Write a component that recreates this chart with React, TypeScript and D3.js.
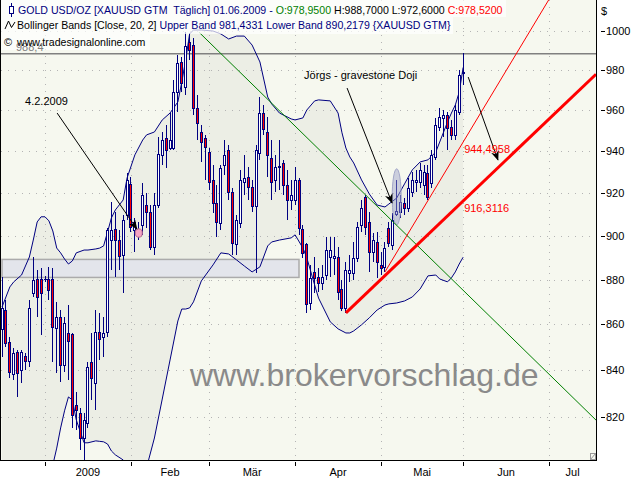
import React from 'react';
import * as d3 from 'd3';

// bar index 0 = Mon 15.12.2008, one bar per weekday
const startDate = new Date(2008, 11, 15);
const firstBar = 2;
const lastDay = 154; // right edge of the plot

const opens = [
  858.0, 866.4, 852.3, 838.4, 847.9, 840.1, 846.2, 844.0, 874.0, 880.3,
  880.3, 880.3, 880.3, 880.3, 858.4, 863.3, 842.3, 856.2, 855.8, 825.1,
  821.7, 811.2, 817.5, 843.6, 834.5, 856.7, 854.5, 856.7, 898.1, 903.2,
  898.1, 891.2, 909.8, 924.4, 902.8, 902.8, 905.1, 914.4, 911.2, 894.9,
  914.4, 938.3, 946.5, 941.6, 941.6, 969.1, 984.2, 971.6, 994.4, 992.8,
  961.2, 949.4, 946.5, 939.7, 926.3, 915.4, 906.0, 933.4, 940.7, 920.6,
  896.3, 906.0, 925.3, 927.7, 923.0, 914.0, 939.2, 958.7, 949.4, 936.8,
  926.3, 932.5, 934.4, 923.9, 916.8, 916.8, 926.3, 903.2, 896.3, 869.5,
  883.5, 881.2, 878.5, 882.1, 890.3, 889.9, 890.3, 875.8, 867.3, 883.0,
  883.0, 889.9, 905.1, 918.2, 906.5, 892.6, 897.2, 886.7, 885.8, 903.7,
  895.8, 910.2, 911.2, 915.4, 913.0, 920.6, 925.3, 925.3, 923.9, 929.6,
  924.9, 937.3, 951.9, 956.3, 957.7, 951.9, 948.0, 959.2, 978.95,
];
const highs = [
  881.2, 870.9, 854.5, 849.6, 848.8, 848.8, 847.5, 870.9, 890.3, 884.4,
  885.3, 881.7, 885.8, 885.3, 870.0, 866.4, 863.3, 868.6, 856.2, 830.6,
  823.8, 821.7, 843.6, 856.2, 866.4, 865.1, 863.3, 903.7, 915.9, 911.2,
  902.8, 909.8, 929.6, 927.7, 908.4, 906.5, 924.9, 920.1, 914.4, 920.1,
  947.0, 949.4, 952.8, 958.7, 975.1, 987.7, 986.7, 999.5, 999.0, 996.4,
  967.6, 952.8, 948.0, 941.6, 933.4, 923.9, 933.4, 945.5, 943.1, 922.5,
  909.8, 931.1, 938.3, 932.5, 926.3, 943.1, 966.6, 962.7, 956.8, 945.5,
  938.3, 945.5, 935.9, 931.1, 926.3, 932.5, 927.2, 905.1, 896.8, 886.7,
  890.3, 885.3, 886.7, 899.5, 899.5, 899.5, 894.9, 879.9, 888.0, 891.2,
  897.2, 906.5, 916.8, 919.2, 911.2, 901.4, 901.8, 892.6, 897.2, 906.5,
  910.7, 926.3, 919.2, 917.7, 927.2, 930.1, 931.1, 934.4, 933.4, 933.4,
  940.7, 956.3, 961.2, 960.2, 959.2, 955.3, 962.7, 980.2, 988.7,
];
const lows = [
  845.7, 850.1, 836.6, 835.8, 828.5, 834.5, 840.1, 841.4, 872.2, 863.3,
  855.3, 879.0, 870.9, 843.6, 838.8, 834.9, 839.2, 835.8, 815.4, 814.6,
  806.2, 802.1, 815.4, 827.2, 823.0, 844.4, 845.7, 854.5, 884.4, 881.2,
  884.4, 874.0, 907.4, 901.8, 892.6, 898.1, 900.5, 903.7, 893.5, 891.2,
  913.0, 933.4, 932.0, 940.7, 940.7, 959.2, 969.1, 967.6, 985.2, 957.7,
  945.5, 934.9, 926.3, 921.5, 910.7, 899.5, 902.8, 928.7, 916.8, 891.2,
  891.2, 903.7, 919.2, 916.8, 911.2, 883.0, 935.9, 948.0, 927.7, 916.8,
  920.6, 921.5, 919.2, 907.4, 912.1, 914.4, 900.5, 889.9, 865.1, 866.4,
  874.0, 874.5, 875.4, 879.9, 881.2, 882.1, 870.9, 866.0, 865.1, 879.0,
  879.9, 888.0, 901.8, 900.5, 883.5, 888.0, 880.8, 882.1, 883.5, 894.9,
  893.5, 909.3, 908.4, 909.8, 911.2, 918.2, 920.6, 922.5, 919.2, 916.8,
  922.5, 935.9, 949.9, 947.0, 940.7, 945.5, 945.5, 957.7, 972.6,
];
const closes = [
  867.3, 851.8, 839.2, 847.5, 838.8, 847.9, 844.0, 867.3, 879.9, 872.2,
  874.0, 880.1, 875.4, 858.9, 863.3, 842.3, 860.6, 852.7, 820.9, 823.0,
  811.2, 818.8, 841.4, 836.6, 856.7, 853.6, 856.2, 902.8, 902.8, 898.1,
  890.8, 907.4, 926.3, 904.2, 906.5, 900.0, 919.2, 911.2, 894.9, 914.4,
  938.7, 945.5, 940.7, 945.5, 969.1, 983.7, 973.6, 992.3, 990.3, 961.2,
  953.8, 944.5, 942.1, 925.3, 915.4, 906.5, 932.0, 938.3, 920.6, 896.8,
  907.4, 926.3, 927.2, 923.0, 914.0, 940.7, 958.7, 950.9, 938.3, 925.3,
  932.5, 933.0, 923.9, 916.8, 919.2, 926.3, 903.7, 892.2, 869.1, 880.8,
  880.8, 878.5, 881.2, 893.5, 893.5, 890.8, 874.5, 867.3, 884.4, 884.4,
  889.9, 904.2, 913.0, 904.2, 892.6, 898.1, 888.0, 885.3, 894.4, 896.8,
  907.4, 911.6, 915.9, 913.0, 922.5, 926.3, 926.3, 931.1, 930.1, 918.2,
  938.3, 952.8, 956.8, 957.7, 951.4, 948.0, 960.2, 977.6, 978.52,
];

// Bollinger Bands (20, 2), read at these bars
const bandDays = [
  2, 4, 5, 7, 8, 9, 10, 11, 12, 13, 14, 15, 16, 17, 18, 19, 20, 21, 23, 24,
  26, 27, 28, 29, 30, 31, 33, 34, 36, 38, 39, 41, 43, 45, 47, 48, 49, 50, 51, 53,
  56, 58, 60, 62, 64, 66, 68, 70, 71, 73, 76, 77, 79, 80, 82, 83, 86, 88, 89, 90,
  91, 92, 94, 96, 98, 100, 101, 103, 105, 107, 109, 111, 113, 114, 116, 117, 118, 119, 120,
];
const upperBand = [
  867.7, 876.7, 879.0, 882.1, 886.2, 890.3, 898.1, 906.5, 908.9, 908.9,
  907.0, 902.3, 894.4, 892.2, 889.4, 887.1, 888.5, 892.2, 893.5, 893.5,
  894.0, 894.4, 895.4, 901.8, 908.4, 912.1, 916.8, 927.2, 938.3, 945.5,
  948.0, 949.4, 955.3, 958.7, 964.2, 974.1, 985.2, 998.5, 1000.5, 1000.5,
  1000.0, 998.5, 995.9, 997.4, 997.4, 992.8, 984.2, 966.6, 963.2, 958.7,
  955.8, 955.3, 956.3, 960.2, 964.7, 965.2, 964.7, 958.7, 949.0, 941.6,
  937.3, 934.4, 926.3, 919.6, 914.4, 913.5, 914.9, 917.7, 924.4, 931.1,
  934.9, 935.9, 939.7, 944.5, 954.3, 958.7, 962.7, 969.1, 981.4331,
];
const lowerBand = [
  796, 795, 794, 793, 793, 793, 794, 795, 796, 797,
  798, 800, 807, 815.4, 822.6, 828.5, 827.2, 818.8, 809.2, 809.2,
  810.0, 809.8, 809.6, 808.7, 805.8, 804.2, 802.1, 799, 797, 797,
  799, 811.2, 827.6, 844.4, 861.5, 866.8, 866.8, 867.3, 870.0, 879.4,
  886.7, 892.2, 891.7, 889.0, 886.2, 883.5, 885.8, 895.4, 897.2, 898.1,
  899.1, 900.5, 894.4, 889.9, 877.6, 871.7, 861.1, 858.0, 857.1, 856.2,
  856.2, 857.1, 859.8, 862.9, 866.4, 868.6, 869.1, 869.5, 870.4, 872.2,
  875.8, 881.7, 882.1, 880.3, 879.0, 880.8, 883.5, 887.1, 890.2179,
];

const priceTicks = [1000, 980, 960, 940, 920, 900, 880, 860, 840, 820];
const monthLabels = ['2009', 'Feb', 'Mär', 'Apr', 'Mai', 'Jun', 'Jul'];

// drawn objects: [bar, price]
const highLine = 988.4;
const zoneDays = [2, 78];
const zonePrices = [881.0, 889.2];
const greenTrend = [[52.5, 999.2], [154, 818.7]];
const thickTrend = [[90, 865.1], [120, 916.3116]];
const thinTrend = [[100, 883.5], [120, 944.4958]];
const arrows = [
  { from: [16.1, 958.7], to: [36.5, 903.2] },
  { from: [90.3, 971.1], to: [101.8, 915.4] },
  { from: [121.3, 976.6], to: [128.9, 935.9] },
];
const notes = [
  { text: '4.2.2009', at: [7.9, 962.7] },
  { text: 'Jörgs - gravestone Doji', at: [79.3, 975.6] },
];
const dojiMark = { day: 103, prices: [905.1, 931.6] };
const pinkMark = { day: 37, prices: [899.4, 903.3] };

const navy = '#000080';
const font = '"Liberation Sans", Arial, sans-serif';
const de = d3.formatLocale({ decimal: ',', thousands: '.', grouping: [3], currency: ['', ''] });
const fmt4 = de.format('.4f');
const fmt1 = de.format('.1f');

export default function App() {
  const W = 640, H = 480;
  const left = 1, right = 596, top = 0, bottom = 460;

  const x = d3.scaleLinear().domain([0, lastDay]).range([-5.8, right]);
  const y = d3.scaleLog().domain([1000, 820]).range([31, 417]);

  // weekday calendar for the axis
  const dates: Date[] = [];
  let d = new Date(startDate);
  while (dates.length <= lastDay) {
    if (d.getDay() !== 0 && d.getDay() !== 6) dates.push(new Date(d));
    d = d3.timeDay.offset(d, 1);
  }
  const monthStarts: number[] = [];
  for (let k = 1; k < dates.length; k++) {
    if (dates[k].getMonth() !== dates[k - 1].getMonth() && dates[k].getFullYear() === 2009) monthStarts.push(k);
  }

  const bars = opens.map((o, k) => ({ day: firstBar + k, o, h: highs[k], l: lows[k], c: closes[k] }));
  const last = bars[bars.length - 1];
  const band = bandDays.map((day, k) => ({ day, up: upperBand[k], lo: lowerBand[k] }));

  const bandArea = d3.area<any>().x(b => x(b.day)).y0(b => y(b.lo)).y1(b => y(b.up));
  const upLine = d3.line<any>().x(b => x(b.day)).y(b => y(b.up));
  const loLine = d3.line<any>().x(b => x(b.day)).y(b => y(b.lo));

  // straight line in log-price, extended to the right edge
  const extend = (t: number[][]) => {
    const [[d1, p1], [d2, p2]] = t;
    const p = (dd: number) => p1 * Math.pow(p2 / p1, (dd - d1) / (d2 - d1));
    return { x1: x(d1), y1: y(p1), x2: x(lastDay), y2: y(p(lastDay)) };
  };
  const thick = extend(thickTrend);
  const thin = extend(thinTrend);

  const dateFmt = d3.timeFormat('%d.%m.%Y');

  return (
    <svg width={W} height={H} style={{ position: 'absolute', left: 0, top: 0, background: '#fff' }}
      fontFamily={font}>
      <defs>
        <clipPath id="plot"><rect x={left} y={top} width={right - left} height={bottom - top} /></clipPath>
        <marker id="head" viewBox="0 0 10 8" refX="9" refY="4" markerWidth="10" markerHeight="8"
          markerUnits="userSpaceOnUse" orient="auto">
          <path d="M0,0 L10,4 L0,8 L3,4 Z" fill="#000" />
        </marker>
      </defs>
      <rect width={W} height={H} fill="#fff" />
      <rect x={left} y={top} width={right - left} height={bottom - top} fill="#F6F8EF" />

      <g clipPath="url(#plot)">
        <path d={bandArea(band) || ''} fill="#ECEEE5" />

        {/* dotted grid */}
        {priceTicks.map(p => (
          <line key={p} x1={left} x2={right} y1={Math.round(y(p)) + 0.5} y2={Math.round(y(p)) + 0.5}
            stroke="#B4B4B4" strokeDasharray="1 6" />
        ))}
        {monthStarts.map(k => (
          <line key={k} x1={Math.round(x(k)) + 0.5} x2={Math.round(x(k)) + 0.5} y1={top} y2={bottom}
            stroke="#B4B4B4" strokeDasharray="1 6" />
        ))}

        <rect x={x(zoneDays[0])} y={y(zonePrices[1])} width={x(zoneDays[1]) - x(zoneDays[0])}
          height={y(zonePrices[0]) - y(zonePrices[1])} fill="#E3E5EB" stroke="#ABABAB" strokeWidth={1.5} />

        <text x={190} y={386} fontSize={32} fill="#8A8A8A">www.brokervorschlag.de</text>

        <line x1={left} x2={right} y1={y(highLine)} y2={y(highLine)} stroke="#808080" strokeWidth={1.5} />

        <path d={upLine(band) || ''} fill="none" stroke={navy} />
        <path d={loLine(band) || ''} fill="none" stroke={navy} />

        <g shapeRendering="crispEdges">
          {bars.map(b => {
            const col = Math.floor(x(b.day));
            const yt = Math.round(y(Math.max(b.o, b.c))) + 0.5;
            const yb = Math.round(y(Math.min(b.o, b.c))) + 0.5;
            return (
              <g key={b.day}>
                <line x1={col + 0.5} x2={col + 0.5} y1={Math.round(y(b.h))} y2={Math.round(y(b.l))} stroke={navy} />
                {yb - yt < 1
                  ? <line x1={col - 1} x2={col + 2} y1={yt} y2={yt} stroke={navy} />
                  : <rect x={col - 0.5} y={yt} width={2} height={yb - yt}
                      fill={b.c >= b.o ? '#fff' : '#f00'} stroke={navy} />}
              </g>
            );
          })}
        </g>

        <ellipse cx={x(pinkMark.day)} cy={(y(pinkMark.prices[0]) + y(pinkMark.prices[1])) / 2} rx={3.5}
          ry={(y(pinkMark.prices[0]) - y(pinkMark.prices[1])) / 2} fill="#F4A3C4" stroke="#B86A8C" />
        <ellipse cx={x(dojiMark.day)} cy={(y(dojiMark.prices[0]) + y(dojiMark.prices[1])) / 2} rx={4.5}
          ry={(y(dojiMark.prices[0]) - y(dojiMark.prices[1])) / 2} fill="rgba(150,155,200,0.45)" stroke="#A2A6C8" />

        <line x1={x(greenTrend[0][0])} y1={y(greenTrend[0][1])} x2={x(greenTrend[1][0])} y2={y(greenTrend[1][1])}
          stroke="#008000" />
        <line {...thin} stroke="#f00" />
        <line {...thick} stroke="#f00" strokeWidth={3} />

        {arrows.map((a, k) => (
          <line key={k} x1={x(a.from[0])} y1={y(a.from[1])} x2={x(a.to[0])} y2={y(a.to[1])}
            stroke="#000" markerEnd="url(#head)" />
        ))}
        {notes.map(n => (
          <text key={n.text} x={x(n.at[0])} y={y(n.at[1])} fontSize={11} fill="#000">{n.text}</text>
        ))}

        <text x={x(last.day) + 1} y={y(thinTrend[1][1]) + 11} fontSize={11} fill="#f00">{fmt4(thinTrend[1][1])}</text>
        <text x={x(last.day) + 1} y={y(thickTrend[1][1]) + 11} fontSize={11} fill="#f00">{fmt4(thickTrend[1][1])}</text>

        {/* legend rows */}
        <rect x={left} y={0} width={505} height={17} fill="#fff" fillOpacity={0.7} />
        <rect x={left} y={17} width={452} height={17} fill="#fff" fillOpacity={0.7} />
        <rect x={left} y={34} width={149} height={16} fill="#fff" fillOpacity={0.7} />
        <text x={16} y={y(highLine) - 3} fontSize={11} fill="#808080">{fmt1(highLine)}</text>

        <line x1={11.5} x2={11.5} y1={3} y2={17} stroke={navy} />
        <rect x={9.5} y={6.5} width={4} height={7} fill="#fff" stroke={navy} />
        <text x={18} y={14} fontSize={10.6} style={{ whiteSpace: 'pre' }}>
          <tspan fill={navy}>{`GOLD USD/OZ [XAUUSD GTM  Täglich] ${dateFmt(dates[last.day])} - `}</tspan>
          <tspan fill="#008000">{`O:${fmt4(last.o)}`}</tspan>
          <tspan fill="#000">{` H:${fmt4(last.h)} L:${fmt4(last.l)} `}</tspan>
          <tspan fill="#f00">{`C:${fmt4(last.c)}`}</tspan>
        </text>

        <path d="M5,29 L8.5,21 L11.5,27.5 L15,22" fill="none" stroke="#000" />
        <text x={17} y={29} fontSize={10.6} style={{ whiteSpace: 'pre' }}>
          <tspan fill="#000">Bollinger Bands [Close, 20, 2] </tspan>
          <tspan fill={navy}>{`Upper Band ${fmt4(upperBand[upperBand.length - 1])} Lower Band ${fmt4(lowerBand[lowerBand.length - 1])} {XAUUSD GTM}`}</tspan>
        </text>

        <text x={4} y={46} fontSize={11} fill="#000">©</text>
        <text x={17} y={46} fontSize={10.6} fill="#000">www.tradesignalonline.com</text>
      </g>

      {/* frame */}
      <rect x={0.5} y={-0.5} width={right} height={bottom + 1} fill="none" stroke="#000" />
      <rect x={590.5} y={453.5} width={5} height={6} fill="none" stroke="#999" />
      <line x1={590.5} y1={459.5} x2={595.5} y2={453.5} stroke="#999" />

      {/* price axis */}
      <text x={601} y={15} fontSize={11} fill="#000">$</text>
      {priceTicks.map(p => (
        <g key={p}>
          <line x1={601} x2={605} y1={Math.round(y(p)) + 0.5} y2={Math.round(y(p)) + 0.5} stroke="#000" />
          <text x={606} y={y(p) + 4} fontSize={11} fill="#000">{p}</text>
        </g>
      ))}

      {/* time axis */}
      {monthStarts.map((k, j) => {
        const xa = x(k);
        const xb = j + 1 < monthStarts.length ? x(monthStarts[j + 1]) : right;
        return (
          <g key={k}>
            <line x1={Math.round(xa) + 0.5} x2={Math.round(xa) + 0.5} y1={462} y2={466} stroke="#000" />
            <text x={(xa + xb) / 2} y={476} fontSize={11} textAnchor="middle" fill="#000">{monthLabels[j]}</text>
          </g>
        );
      })}
    </svg>
  );
}
